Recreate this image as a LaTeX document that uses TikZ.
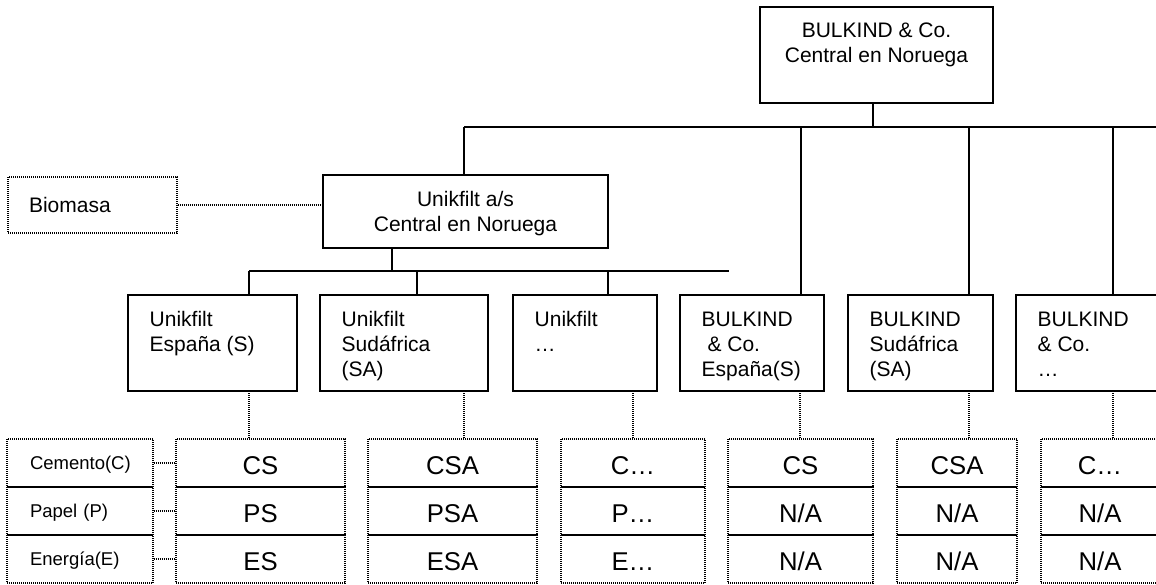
\documentclass[tikz,border=0pt]{standalone}
\usepackage{fontspec}
\setmainfont{Liberation Sans}
\newcommand{\firstline}{\rule{0pt}{20pt}}
\begin{document}
\begin{tikzpicture}[x=1pt,y=-1pt,
  solidbox/.style={draw, line width=1.6pt, rectangle, inner sep=0pt},
  conn/.style={line width=1.6pt},
  dotline/.style={line width=1.3pt, dash pattern=on 1pt off 1pt},
  dotbox/.style={draw, dotline, rectangle, inner sep=0pt, minimum height=48pt},
  boxtext/.style={inner sep=0pt, font=\fontsize{21}{25}\selectfont},
  cellbig/.style={dotbox, font=\fontsize{25.7}{30}\selectfont, text height=23pt, text depth=0pt},
  celllab/.style={dotbox, font=\fontsize{18.5}{22}\selectfont, text height=13.2pt, text depth=0pt,
                  align=left, text width=100pt, inner xsep=23pt},
]
\useasboundingbox (0,0) rectangle (1156,584);

% head office
\node[solidbox, minimum width=233pt, minimum height=96pt] (top) at (876.5,55) {};
\node[boxtext, anchor=north, align=center] (top-t) at (876.5,17.3)
  {\firstline BULKIND \& Co.\\Central en Noruega};

% Unikfilt head office
\node[solidbox, minimum width=285pt, minimum height=73pt] (as) at (465.5,211.5) {};
\node[boxtext, anchor=north, align=center] (as-t) at (465.5,186)
  {\firstline Unikfilt a/s\\Central en Noruega};

% Biomasa
\node[draw, dotline, minimum height=56pt, text width=127pt, inner xsep=21pt, inner ysep=0pt,
      align=left, font=\fontsize{21}{25}\selectfont, text height=15pt, text depth=0pt]
  (bio) at (92.5,205) {Biomasa};

% subsidiaries
\node[solidbox, minimum width=169pt, minimum height=96pt] (b1) at (212.5,343) {};
\node[solidbox, minimum width=168pt, minimum height=96pt] (b2) at (404,343) {};
\node[solidbox, minimum width=144pt, minimum height=96pt] (b3) at (585,343) {};
\node[solidbox, minimum width=144pt, minimum height=96pt] (b4) at (752,343) {};
\node[solidbox, minimum width=145pt, minimum height=96pt] (b5) at (920.5,343) {};
\node[solidbox, minimum width=144pt, minimum height=96pt] (b6) at (1088,343) {};

\node[boxtext, anchor=north west, align=left] (b1-t) at (149.5,306) {\firstline Unikfilt\\España (S)};
\node[boxtext, anchor=north west, align=left] (b2-t) at (341.5,306) {\firstline Unikfilt\\Sudáfrica\\(SA)};
\node[boxtext, anchor=north west, align=left] (b3-t) at (534.5,306) {\firstline Unikfilt\\…};
\node[boxtext, anchor=north west, align=left] (b4-t) at (701.5,306) {\firstline BULKIND\\\mbox{ }\& Co.\\España(S)};
\node[boxtext, anchor=north west, align=left] (b5-t) at (869.5,306) {\firstline BULKIND\\Sudáfrica\\(SA)};
\node[boxtext, anchor=north west, align=left] (b6-t) at (1037.5,306) {\firstline BULKIND\\\& Co.\\…};

% sector labels
\node[celllab, minimum width=146pt] (l1) at (80,463) {Cemento(C)};
\node[celllab, minimum width=146pt] (l2) at (80,511) {Papel (P)};
\node[celllab, minimum width=146pt] (l3) at (80,559) {Energía(E)};

% sector tables
\node[cellbig, minimum width=169pt] (t1a) at (260.5,463) {CS};
\node[cellbig, minimum width=169pt] (t1b) at (260.5,511) {PS};
\node[cellbig, minimum width=169pt] (t1c) at (260.5,559) {ES};

\node[cellbig, minimum width=169pt] (t2a) at (452.5,463) {CSA};
\node[cellbig, minimum width=169pt] (t2b) at (452.5,511) {PSA};
\node[cellbig, minimum width=169pt] (t2c) at (452.5,559) {ESA};

\node[cellbig, minimum width=144pt] (t3a) at (633,463) {C…};
\node[cellbig, minimum width=144pt] (t3b) at (633,511) {P…};
\node[cellbig, minimum width=144pt] (t3c) at (633,559) {E…};

\node[cellbig, minimum width=145pt] (t4a) at (800.5,463) {CS};
\node[cellbig, minimum width=145pt] (t4b) at (800.5,511) {N/A};
\node[cellbig, minimum width=145pt] (t4c) at (800.5,559) {N/A};

\node[cellbig, minimum width=120pt] (t5a) at (957,463) {CSA};
\node[cellbig, minimum width=120pt] (t5b) at (957,511) {N/A};
\node[cellbig, minimum width=120pt] (t5c) at (957,559) {N/A};

\node[cellbig, minimum width=118pt] (t6a) at (1100,463) {C…};
\node[cellbig, minimum width=118pt] (t6b) at (1100,511) {N/A};
\node[cellbig, minimum width=118pt] (t6c) at (1100,559) {N/A};

% upper bus
\coordinate (busA) at (464,127);
\coordinate (busAend) at (1156,127);
\coordinate (topfoot) at ([xshift=-3.5pt]top.south);
\coordinate (j4) at (801,127);
\coordinate (j5) at (969,127);
\coordinate (j6) at (1113,127);
\draw[conn] (busA) -- (busAend);
\draw[conn] (topfoot) -- (topfoot |- busA);
\draw[conn] (busA) -- (busA |- as.north);
\draw[conn] (j4) -- (j4 |- b4.north);
\draw[conn] (j5) -- (j5 |- b5.north);
\draw[conn] (j6) -- (j6 |- b6.north);

% lower bus
\coordinate (busB) at (249,271);
\coordinate (busBend) at (729,271);
\coordinate (asfoot) at ([xshift=-73.5pt]as.south);
\coordinate (k2) at (417,271);
\coordinate (k3) at (608,271);
\draw[conn] (busB) -- (busBend);
\draw[conn] (asfoot) -- (asfoot |- busB);
\draw[conn] (busB) -- (busB |- b1.north);
\draw[conn] (k2) -- (k2 |- b2.north);
\draw[conn] (k3) -- (k3 |- b3.north);

% dotted links
\draw[dotline] (bio.east) -- (bio.east -| as.west);
\coordinate (d1) at (249,391);
\coordinate (d2) at (464,391);
\coordinate (d3) at (633,391);
\coordinate (d4) at (800,391);
\coordinate (d5) at (969,391);
\coordinate (d6) at (1113,391);
\draw[dotline] (d1) -- (d1 |- t1a.north);
\draw[dotline] (d2) -- (d2 |- t2a.north);
\draw[dotline] (d3) -- (d3 |- t3a.north);
\draw[dotline] (d4) -- (d4 |- t4a.north);
\draw[dotline] (d5) -- (d5 |- t5a.north);
\draw[dotline] (d6) -- (d6 |- t6a.north);
\draw[dotline] (l1.east) -- (t1a.west);
\draw[dotline] (l2.east) -- (t1b.west);
\draw[dotline] (l3.east) -- (t1c.west);
\end{tikzpicture}
\end{document}
